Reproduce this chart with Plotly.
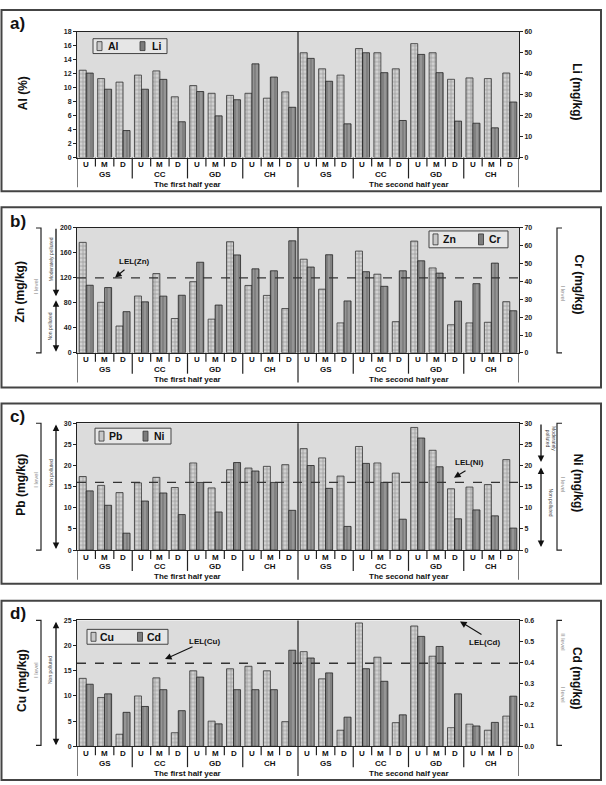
import plotly.graph_objects as go

W, H = 606, 785
def PX(x): return x / W
def PY(y): return 1 - y / H

# ---------------- data ----------------
halves = ["The first half year", "The second half year"]
sites = ["GS", "CC", "GD", "CH"]
positions = ["U", "M", "D"]
categories = [f"{h}|{s}|{p}" for h in halves for s in sites for p in positions]

al = [12.5, 11.3, 10.8, 11.8, 12.4, 8.7, 10.3, 9.2, 8.9, 9.2, 8.5, 9.4,
      15.0, 12.7, 11.8, 15.6, 15.0, 12.7, 16.3, 15.0, 11.2, 11.4, 11.3, 12.1]
li = [40.3, 32.6, 12.9, 32.6, 37.3, 17.1, 31.5, 19.9, 27.6, 44.7, 38.4, 24.0,
      47.3, 36.4, 16.1, 50.0, 40.5, 17.7, 49.2, 40.5, 17.4, 16.4, 14.2, 26.5]
zn = [177, 81, 43, 91, 127, 55, 114, 54, 178, 108, 92, 71,
      150, 102, 48, 163, 126, 50, 179, 136, 45, 48, 49, 82]
cr = [37.9, 36.6, 23.1, 28.6, 31.8, 32.3, 50.8, 26.8, 54.9, 47.1, 46.0, 62.8,
      48.1, 55.0, 29.1, 45.5, 37.3, 46.0, 51.6, 44.7, 29.0, 38.8, 50.3, 23.6]
pb = [17.4, 15.3, 13.6, 15.9, 17.2, 14.8, 20.6, 14.7, 19.0, 19.4, 19.8, 20.2,
      24.0, 21.8, 17.5, 24.5, 20.6, 18.2, 29.0, 23.6, 14.5, 14.9, 15.5, 21.4]
ni = [14.0, 10.6, 4.0, 11.6, 13.5, 8.4, 16.0, 9.0, 20.7, 18.7, 16.0, 9.4,
      20.0, 14.6, 5.6, 20.5, 16.0, 7.3, 26.5, 19.7, 7.4, 9.5, 8.1, 5.2]
cu = [13.5, 9.7, 2.4, 10.0, 13.6, 2.7, 15.0, 5.0, 15.4, 15.9, 15.0, 4.9,
      18.8, 13.4, 3.2, 24.5, 17.7, 4.7, 23.9, 17.9, 3.7, 4.4, 3.2, 6.0]
cd = [0.296, 0.250, 0.162, 0.190, 0.270, 0.170, 0.330, 0.107, 0.270, 0.270, 0.270, 0.458,
      0.421, 0.350, 0.139, 0.370, 0.310, 0.150, 0.524, 0.476, 0.250, 0.097, 0.114, 0.239]

lel_zn = 120   # on Zn axis
lel_ni = 16    # on Pb/Ni axis
lel_cu = 16.5  # on Cu axis (~0.4 on Cd axis)

# ---------------- style / layout config ----------------
FONT = "Liberation Sans, Arial, sans-serif"
X0, X1 = 77, 519
L_FILL, R_FILL = "#c8c8c8", "#7c7c7c"
panels = [
    dict(tag="a)", L=al, R=li, ln="Al", rn="Li", lmax=18, rmax=60,
         lt=list(range(0, 19, 2)), rt=list(range(0, 61, 10)), rfmt="",
         top=28, bot=155, box=(6, 189), tagy=20,
         lt_title="Al (%)", lt_xy=(23, 90), rt_title="Li (mg/kg)", rt_xy=(577, 88),
         leg=(93, 35, 167, 50), lel=None),
    dict(tag="b)", L=zn, R=cr, ln="Zn", rn="Cr", lmax=200, rmax=70,
         lt=list(range(0, 201, 40)), rt=list(range(0, 71, 10)), rfmt="",
         top=226, bot=352, box=(205, 387), tagy=219,
         lt_title="Zn (mg/kg)", lt_xy=(20, 290), rt_title="Cr (mg/kg)", rt_xy=(579, 283),
         leg=(429, 229, 508, 246), lel=lel_zn),
    dict(tag="c)", L=pb, R=ni, ln="Pb", rn="Ni", lmax=30, rmax=30,
         lt=list(range(0, 31, 5)), rt=list(range(0, 31, 5)), rfmt="",
         top=423, bot=551, box=(403, 585), tagy=416,
         lt_title="Pb (mg/kg)", lt_xy=(21, 485), rt_title="Ni (mg/kg)", rt_xy=(578, 483),
         leg=(95, 428, 171, 444), lel=lel_ni),
    dict(tag="d)", L=cu, R=cd, ln="Cu", rn="Cd", lmax=25, rmax=0.6,
         lt=list(range(0, 26, 5)), rt=[0, 0.1, 0.2, 0.3, 0.4, 0.5, 0.6], rfmt=".1f",
         top=622, bot=749, box=(602, 783), tagy=615,
         lt_title="Cu (mg/kg)", lt_xy=(22, 683), rt_title="Cd (mg/kg)", rt_xy=(577, 680),
         leg=(87, 631, 168, 646), lel=lel_cu),
]

fig = go.Figure()
shapes, annots = [], []
layout = dict(
    width=W, height=H, margin=dict(l=0, r=0, t=0, b=0),
    paper_bgcolor="white", plot_bgcolor="#dcdcdc", showlegend=False,
    barmode="group", bargap=0.24, bargroupgap=0.0,
    font=dict(family=FONT, color="#111"),
)

def note(text, x, y, font, angle=0, xref="paper"):
    annots.append(dict(text=text, xref=xref, yref="paper", x=x, y=y, textangle=angle,
                       xanchor="center", yanchor="middle", showarrow=False, font=font))

def prect(x0, y0, x1, y1, fill, lc="#333", lw=1):
    shapes.append(dict(type="rect", xref="paper", yref="paper",
                       x0=PX(x0), x1=PX(x1), y0=PY(y1), y1=PY(y0),
                       fillcolor=fill, line=dict(color=lc, width=lw)))

for i, p in enumerate(panels):
    xn = "x" if i == 0 else f"x{i+1}"
    yl = "y" if i == 0 else f"y{2*i+1}"
    yr = f"y{2*i+2}"
    fig.add_trace(go.Bar(
        x=categories, y=p["L"], name=p["ln"], xaxis=xn, yaxis=yl,
        offsetgroup="a", alignmentgroup=f"g{i}",
        marker=dict(color=L_FILL, line=dict(color="#333", width=0.8),
                    pattern=dict(shape="+", fgcolor="#555", bgcolor="#d2d2d2",
                                 size=4, solidity=0.3)),
    ))
    fig.add_trace(go.Bar(
        x=categories, y=p["R"], name=p["rn"], xaxis=xn, yaxis=yr,
        offsetgroup="b", alignmentgroup=f"g{i}",
        marker=dict(color=R_FILL, line=dict(color="#222", width=0.8),
                    pattern=dict(shape="|", fgcolor="#505050", bgcolor="#959595",
                                 size=4, solidity=0.3)),
    ))
    dom_y = [PY(p["bot"]), PY(p["top"])]
    xk = "xaxis" if i == 0 else f"xaxis{i+1}"
    ylk = "yaxis" if i == 0 else f"yaxis{2*i+1}"
    yrk = f"yaxis{2*i+2}"
    layout[xk] = dict(domain=[PX(X0), PX(X1)], anchor=yl, type="category",
                      categoryorder="array", categoryarray=categories,
                      range=[-0.5, len(categories) - 0.5], showticklabels=False,
                      ticks="", showline=True, mirror=True, linecolor="#222",
                      linewidth=1, showgrid=False, zeroline=False, fixedrange=True)
    tickfont = dict(family=FONT, size=7, color="#222", weight="bold")
    layout[ylk] = dict(domain=dom_y, anchor=xn, range=[0, p["lmax"]], tickvals=p["lt"],
                       ticks="outside", ticklen=3, tickcolor="#222", tickfont=tickfont,
                       showline=True, linecolor="#222", linewidth=1, showgrid=False,
                       zeroline=False)
    layout[yrk] = dict(domain=dom_y, anchor=xn, overlaying=yl, side="right",
                       range=[0, p["rmax"]], tickvals=p["rt"], tickformat=p["rfmt"],
                       ticks="outside", ticklen=3, tickcolor="#222", tickfont=tickfont,
                       showline=True, linecolor="#222", linewidth=1, showgrid=False,
                       zeroline=False)

    # panel frame
    shapes.append(dict(type="rect", xref="paper", yref="paper",
                       x0=PX(1.5), x1=PX(601), y0=PY(p["box"][1]), y1=PY(p["box"][0]),
                       line=dict(color="#444", width=2), layer="below"))
    # panel tag
    annots.append(dict(text=f"<b>{p['tag']}</b>", xref="paper", yref="paper",
                       x=PX(8), y=PY(p["tagy"]), xanchor="left", yanchor="middle",
                       showarrow=False, font=dict(family=FONT, size=17, color="#111")))
    # axis titles
    tfont = dict(family=FONT, size=12, color="#111", weight="bold")
    note(p["lt_title"], PX(p["lt_xy"][0]), PY(p["lt_xy"][1]), tfont, -90)
    note(p["rt_title"], PX(p["rt_xy"][0]), PY(p["rt_xy"][1]), tfont, 90)

    # legend box (compact, as in the original figure)
    lx0, ly0, lx1, ly1 = p["leg"]
    prect(lx0, ly0, lx1, ly1, "#e6e6e6", "#444", 1)
    half = (lx1 - lx0) / 2
    lfont = dict(family=FONT, size=10.5, color="#111", weight="bold")
    for j, (nm, fill) in enumerate([(p["ln"], L_FILL), (p["rn"], R_FILL)]):
        sx = lx0 + 4 + j * (half + 6)
        prect(sx, ly0 + 3, sx + 5, ly1 - 3, fill, "#333", 0.8)
        note(nm, PX(sx + 16), PY((ly0 + ly1) / 2), lfont)

    # hierarchical x labels
    b = p["bot"]
    row1, row2, row3 = b + 7, b + 17, b + 27
    lblfont = dict(family=FONT, size=8, color="#111", weight="bold")
    for k, cat in enumerate(categories):
        note(positions[k % 3], k, PY(row1), lblfont, xref=xn)
    for si in range(len(halves) * len(sites)):
        note(sites[si % len(sites)], si * 3 + 1, PY(row2), lblfont, xref=xn)
    for hi, h in enumerate(halves):
        note(h, hi * 12 + 5.5, PY(row3), lblfont, xref=xn)
    for k in range(-1, len(categories)):
        xpos = k + 0.5
        if k in (-1, 11, 23):
            y_end = b + 30
        elif (k + 1) % 3 == 0:
            y_end = b + 21
        else:
            y_end = b + 9
        shapes.append(dict(type="line", xref=xn, yref="paper", x0=xpos, x1=xpos,
                           y0=PY(b), y1=PY(y_end), line=dict(color="#222", width=1.2)))
    # half-year divider through plot area
    shapes.append(dict(type="line", xref=xn, yref="paper", x0=11.5, x1=11.5,
                       y0=PY(p["top"]), y1=PY(b), line=dict(color="#222", width=1.2)))
    # LEL line
    if p["lel"] is not None:
        shapes.append(dict(type="line", xref=xn, yref=yl, x0=-0.5, x1=len(categories) - 0.5,
                           y0=p["lel"], y1=p["lel"],
                           line=dict(color="#333", width=1.3, dash="dash")))

fig.update_layout(**layout)

# ------- decorations: brackets, level arrows, labels -------
small = dict(family=FONT, size=5, color="#444")
grey = dict(family=FONT, size=6, color="#888")
lelfont = dict(family=FONT, size=8, color="#111", weight="bold")

def bracket(x, ytop, ybot, side):
    d = 5 if side == "right" else -5
    path = (f"M{PX(x+d)},{PY(ytop)} L{PX(x)},{PY(ytop)} L{PX(x)},{PY(ybot)} "
            f"L{PX(x+d)},{PY(ybot)}")
    shapes.append(dict(type="path", xref="paper", yref="paper", path=path,
                       line=dict(color="#222", width=1.2)))

def arrow(x, y_head, y_tail, both=False):
    annots.append(dict(text="", xref="paper", yref="paper", x=PX(x), y=PY(y_head),
                       ax=0, ay=y_tail - y_head, axref="pixel", ayref="pixel",
                       showarrow=True, arrowhead=2, arrowsize=1, arrowwidth=1.3,
                       arrowcolor="#111", arrowside="end+start" if both else "end",
                       startarrowhead=2, startarrowsize=1))

def vtext(text, x, y, font, angle=-90):
    note(text, PX(x), PY(y), font, angle)

# panel b
bracket(41, 226, 352, "left"); vtext("I level", 36, 285, grey)
arrow(56, 295, 226); arrow(56, 351, 298, both=True)
vtext("Moderately polluted", 50.5, 258, small); vtext("Non polluted", 50.5, 326, small)
bracket(557, 226, 352, "right"); vtext("I level", 563, 292, grey, 90)
# panel c
bracket(41, 423, 551, "left"); vtext("I level", 36, 480, grey)
arrow(56, 550, 424, both=True); vtext("Non polluted", 50.5, 474, small)
arrow(541, 462, 423); arrow(541, 548, 467, both=True)
vtext("Moderately<br>polluted", 551, 438, small, 90); vtext("Non polluted", 551, 503, small, 90)
bracket(557, 423, 551, "right"); vtext("I level", 563, 485, grey, 90)
# panel d
bracket(41, 622, 748, "left"); vtext("I level", 36, 672, grey)
arrow(56, 748, 623, both=True); vtext("Non polluted", 50, 672, small)
bracket(557, 622, 748, "right"); vtext("II level", 563, 643, grey, 90)
vtext("I level", 563, 697, grey, 90)

# LEL labels with arrows
def lel_arrow(hx, hy, tx, ty):
    annots.append(dict(text="", xref="paper", yref="paper", x=PX(hx), y=PY(hy),
                       ax=tx - hx, ay=ty - hy, axref="pixel", ayref="pixel",
                       showarrow=True, arrowhead=2, arrowsize=1.2, arrowwidth=1.1,
                       arrowcolor="#111"))

note("LEL(Zn)", PX(134), PY(260), lelfont); lel_arrow(115, 276, 126, 267)
note("LEL(Ni)", PX(469), PY(463), lelfont); lel_arrow(454, 478, 467, 470)
note("LEL(Cu)", PX(204), PY(643), lelfont); lel_arrow(165, 661, 194, 648)
note("LEL(Cd)", PX(484), PY(644), lelfont); lel_arrow(460, 623, 483, 637)

fig.update_layout(shapes=shapes, annotations=annots)
fig.write_html("out.html")
